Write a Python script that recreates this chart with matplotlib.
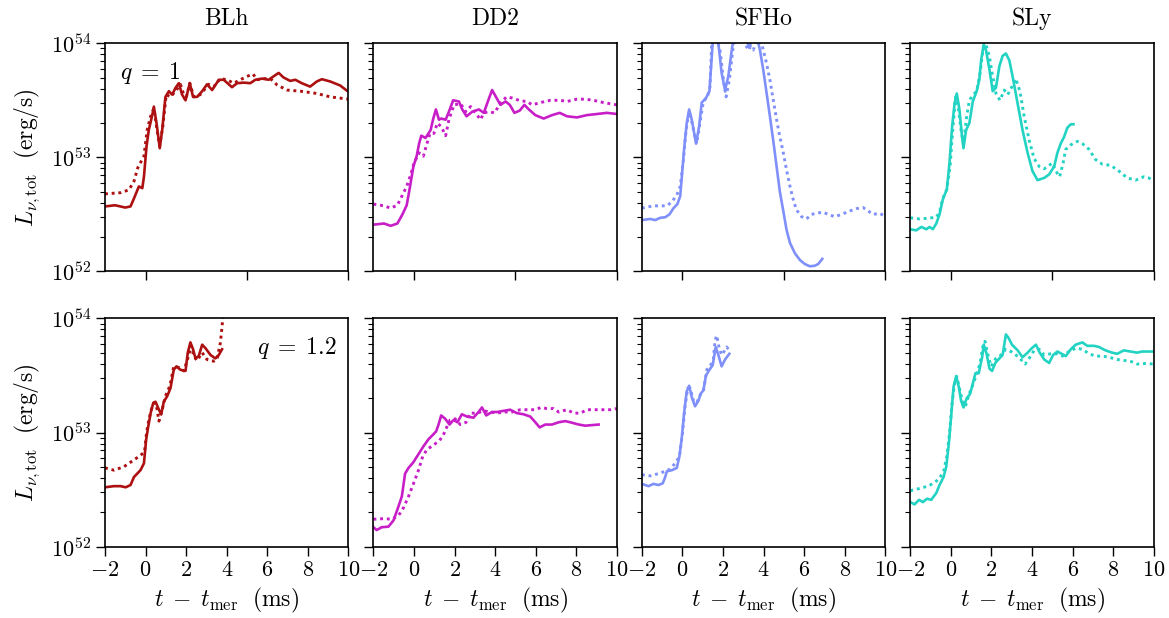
import numpy as np
import matplotlib.pyplot as plt
from matplotlib.ticker import LogLocator, NullFormatter

plt.rcParams['font.family'] = 'serif'
plt.rcParams['font.serif'] = ['cmr10', 'DejaVu Serif']
plt.rcParams['mathtext.fontset'] = 'cm'
plt.rcParams['axes.formatter.use_mathtext'] = True
plt.rcParams['font.size'] = 16

eos_names = ['BLh', 'DD2', 'SFHo', 'SLy']
eos_colors = ['#ad1010', '#c81ec8', '#8090fa', '#22d3c3']
q_labels = [r'$q\;=\;1$', r'$q\;=\;1.2$']

# log10 of L_nu,tot [erg/s] vs t - t_mer [ms]; solid and dotted runs
# q = 1
blh_q1_t = [-2, -1.5, -1.0, -0.74, -0.57, -0.33, -0.16, -0.08, 0.05, 0.16, 0.33, 0.41, 0.54, 0.70, 0.82, 0.98,
            1.15, 1.31, 1.48, 1.64, 1.80, 1.97, 2.18, 2.34, 2.54, 2.79, 3.03, 3.28, 3.61, 3.85, 4.26, 4.51,
            4.84, 5.16, 5.41, 5.74, 6.07, 6.31, 6.56, 6.80, 7.13, 7.38, 7.70, 8.11, 8.44, 8.69, 9.10, 9.59, 9.92]
blh_q1_L = [52.57, 52.58, 52.56, 52.57, 52.64, 52.745, 52.73, 52.83, 53.10, 53.24, 53.37, 53.445, 53.30, 53.08,
            53.24, 53.53, 53.58, 53.55, 53.61, 53.65, 53.55, 53.50, 53.65, 53.53, 53.53, 53.58, 53.64, 53.59,
            53.68, 53.68, 53.615, 53.65, 53.655, 53.65, 53.68, 53.69, 53.68, 53.71, 53.74, 53.70, 53.67, 53.68,
            53.65, 53.62, 53.665, 53.685, 53.665, 53.63, 53.585]
blh_q1_t2 = [-2, -1.23, -0.82, -0.57, -0.38, -0.08, 0.08, 0.25, 0.41, 0.54, 0.69, 0.85, 1.02, 1.23, 1.48, 1.72,
             1.97, 2.18, 2.38, 2.70, 3.11, 3.36, 3.69, 4.02, 4.34, 4.67, 5.0, 5.30, 5.49, 5.82, 6.15, 6.48, 6.97,
             7.62, 8.44, 9.10, 10.0]
blh_q1_L2 = [52.68, 52.69, 52.715, 52.79, 52.91, 53.01, 53.24, 53.36, 53.43, 53.27, 53.10, 53.27, 53.55, 53.53,
             53.58, 53.64, 53.50, 53.65, 53.53, 53.55, 53.64, 53.62, 53.69, 53.68, 53.65, 53.68, 53.71, 53.73,
             53.68, 53.69, 53.69, 53.635, 53.59, 53.58, 53.56, 53.53, 53.51]

dd2_q1_t = [-2, -1.48, -1.15, -0.82, -0.57, -0.36, -0.20, -0.03, 0.13, 0.25, 0.36, 0.57, 0.82, 0.95, 1.08, 1.23,
            1.34, 1.56, 1.72, 1.93, 2.21, 2.38, 2.59, 2.87, 3.20, 3.44, 3.66, 3.85, 4.07, 4.26, 4.51, 4.72, 4.95,
            5.21, 5.44, 5.66, 5.98, 6.39, 6.80, 7.18, 7.54, 8.03, 8.52, 9.02, 9.51, 10.0]
dd2_q1_L = [52.41, 52.42, 52.40, 52.42, 52.50, 52.58, 52.74, 52.92, 53.01, 53.12, 53.19, 53.17, 53.24, 53.34,
            53.42, 53.33, 53.34, 53.33, 53.40, 53.50, 53.49, 53.42, 53.36, 53.40, 53.42, 53.39, 53.50, 53.59,
            53.52, 53.46, 53.49, 53.46, 53.39, 53.41, 53.46, 53.42, 53.37, 53.34, 53.37, 53.39, 53.36, 53.35,
            53.37, 53.38, 53.39, 53.38]
dd2_q1_t2 = [-2, -1.48, -1.15, -0.82, -0.57, -0.36, -0.16, 0.0, 0.25, 0.46, 0.62, 0.79, 0.98, 1.15, 1.34, 1.56,
             1.72, 1.97, 2.30, 2.54, 2.79, 3.03, 3.28, 3.44, 3.69, 3.97, 4.26, 4.56, 4.84, 5.25, 5.57, 5.82, 6.23,
             6.72, 7.21, 7.54, 8.03, 8.44, 8.85, 9.34, 10.0]
dd2_q1_L2 = [52.59, 52.575, 52.555, 52.58, 52.67, 52.745, 52.85, 52.95, 53.04, 53.01, 53.11, 53.21, 53.21,
             53.30, 53.27, 53.19, 53.33, 53.46, 53.47, 53.40, 53.445, 53.39, 53.33, 53.39, 53.40, 53.39, 53.475,
             53.53, 53.52, 53.495, 53.49, 53.46, 53.48, 53.50, 53.50, 53.49, 53.51, 53.51, 53.50, 53.48, 53.46]

sfho_q1_t = [-2, -1.59, -1.34, -1.10, -0.85, -0.64, -0.44, -0.25, -0.11, -0.03, 0.08, 0.21, 0.33, 0.46, 0.67,
             0.82, 0.95, 1.16, 1.33, 1.39, 1.49, 1.61, 1.77, 1.93, 2.10, 2.26, 2.43, 2.51, 2.84, 3.16, 3.30, 3.41,
             3.66, 3.82, 3.98, 4.15, 4.31, 4.48, 4.64, 4.80, 4.97, 5.13, 5.30, 5.54, 5.79, 6.03, 6.28, 6.52, 6.69,
             6.89]
sfho_q1_L = [52.45, 52.46, 52.45, 52.47, 52.475, 52.50, 52.555, 52.59, 52.66, 52.83, 53.07, 53.30, 53.42, 53.33,
             53.12, 53.27, 53.48, 53.52, 53.58, 53.74, 54.0, 54.09, 54.0, 53.74, 53.59, 53.71, 53.94, 54.03,
             54.15, 54.03, 53.96, 54.03, 54.06, 53.94, 53.77, 53.56, 53.36, 53.14, 52.92, 52.70, 52.53, 52.365,
             52.25, 52.16, 52.10, 52.065, 52.045, 52.05, 52.065, 52.11]
sfho_q1_t2 = [-2, -1.43, -0.77, -0.52, -0.28, -0.11, 0.05, 0.18, 0.33, 0.46, 0.70, 0.87, 1.03, 1.23, 1.36,
              1.44, 1.61, 1.85, 2.02, 2.15, 2.31, 2.48, 2.59, 2.90, 3.08, 3.25, 3.36, 3.49, 3.66, 3.90, 4.15, 4.31,
              4.48, 4.64, 4.80, 4.97, 5.13, 5.30, 5.46, 5.62, 5.87, 6.11, 6.36, 6.61, 6.93, 7.18, 7.51, 7.84, 8.25,
              8.57, 8.90, 9.15, 9.39, 9.72, 10.0]
sfho_q1_L2 = [52.555, 52.575, 52.575, 52.61, 52.67, 52.745, 52.98, 53.24, 53.40, 53.31, 53.12, 53.31, 53.49,
              53.53, 53.62, 54.0, 54.09, 53.94, 53.68, 53.53, 53.68, 53.94, 54.06, 54.15, 54.0, 53.94, 53.97,
              53.94, 54.03, 54.0, 53.82, 53.68, 53.50, 53.33, 53.18, 53.04, 52.89, 52.745, 52.63, 52.54, 52.48,
              52.46, 52.50, 52.51, 52.52, 52.50, 52.48, 52.50, 52.53, 52.55, 52.56, 52.53, 52.50, 52.51, 52.48]

sly_q1_t = [-2, -1.71, -1.46, -1.21, -1.05, -0.89, -0.72, -0.56, -0.40, -0.20, -0.07, 0.06, 0.18, 0.29, 0.42,
            0.55, 0.62, 0.75, 0.91, 1.08, 1.27, 1.40, 1.49, 1.62, 1.73, 1.90, 2.06, 2.22, 2.39, 2.55, 2.71, 2.88,
            3.04, 3.29, 3.53, 3.78, 4.02, 4.27, 4.60, 4.84, 5.09, 5.25, 5.41, 5.58, 5.74, 5.91, 6.04]
sly_q1_L = [52.37, 52.36, 52.39, 52.37, 52.39, 52.37, 52.42, 52.50, 52.63, 52.72, 52.95, 53.27, 53.47, 53.56,
            53.42, 53.18, 53.08, 53.24, 53.30, 53.49, 53.58, 53.68, 53.85, 53.99, 53.94, 53.77, 53.58, 53.61,
            53.80, 53.89, 53.91, 53.85, 53.71, 53.47, 53.24, 53.04, 52.88, 52.80, 52.82, 52.85, 52.92, 53.04,
            53.12, 53.18, 53.26, 53.29, 53.29]
sly_q1_t2 = [-2, -1.54, -1.21, -0.72, -0.56, -0.40, -0.20, -0.04, 0.09, 0.23, 0.34, 0.50, 0.62, 0.78, 0.91,
             1.11, 1.27, 1.44, 1.60, 1.73, 1.90, 2.03, 2.22, 2.42, 2.63, 2.80, 3.01, 3.20, 3.40, 3.61, 3.86, 4.10,
             4.35, 4.60, 4.84, 5.00, 5.17, 5.36, 5.53, 5.66, 5.91, 6.23, 6.48, 6.81, 7.13, 7.46, 7.87, 8.28, 8.69,
             9.10, 9.51, 9.75, 10.0]
sly_q1_L2 = [52.47, 52.46, 52.465, 52.475, 52.52, 52.64, 52.72, 52.92, 53.24, 53.53, 53.47, 53.24, 53.12, 53.36,
             53.50, 53.55, 53.58, 53.74, 53.97, 53.99, 53.88, 53.74, 53.56, 53.50, 53.59, 53.55, 53.62, 53.69,
             53.58, 53.36, 53.15, 52.99, 52.92, 52.90, 52.93, 52.95, 52.88, 52.83, 52.95, 53.07, 53.11, 53.14,
             53.12, 53.07, 52.98, 52.94, 52.93, 52.88, 52.82, 52.80, 52.83, 52.82, 52.79]

# q = 1.2
blh_q12_t = [-2, -1.56, -1.23, -0.98, -0.74, -0.57, -0.41, -0.25, -0.08, 0.03, 0.13, 0.25, 0.38, 0.49, 0.66,
             0.77, 0.90, 1.07, 1.23, 1.39, 1.52, 1.72, 1.97, 2.08, 2.21, 2.34, 2.46, 2.62, 2.79, 2.95, 3.20, 3.44,
             3.61, 3.77]
blh_q12_L = [52.52, 52.53, 52.53, 52.52, 52.54, 52.61, 52.64, 52.67, 52.73, 52.94, 53.05, 53.17, 53.26, 53.27,
             53.20, 53.16, 53.27, 53.32, 53.39, 53.55, 53.58, 53.55, 53.54, 53.70, 53.79, 53.73, 53.65, 53.67,
             53.77, 53.74, 53.68, 53.65, 53.68, 53.73]
blh_q12_t2 = [-2, -1.56, -1.07, -0.57, -0.25, -0.05, 0.05, 0.16, 0.28, 0.41, 0.54, 0.66, 0.82, 0.98, 1.20, 1.39,
              1.64, 1.89, 2.08, 2.25, 2.38, 2.54, 2.79, 3.03, 3.36, 3.52, 3.69, 3.77, 3.84]
blh_q12_L2 = [52.69, 52.67, 52.70, 52.76, 52.80, 52.83, 53.00, 53.11, 53.20, 53.26, 53.23, 53.10, 53.20, 53.32,
              53.41, 53.58, 53.57, 53.54, 53.65, 53.76, 53.67, 53.63, 53.70, 53.64, 53.625, 53.64, 53.79, 53.93,
              54.08]

dd2_q12_t = [-2, -1.84, -1.59, -1.26, -1.01, -0.77, -0.60, -0.44, -0.27, -0.03, 0.22, 0.47, 0.71, 0.93, 1.09,
             1.21, 1.34, 1.54, 1.75, 1.95, 2.14, 2.36, 2.61, 2.93, 3.18, 3.35, 3.56, 3.84, 4.09, 4.41, 4.74, 5.07,
             5.40, 5.73, 5.98, 6.19, 6.47, 6.80, 7.13, 7.46, 7.70, 8.12, 8.44, 8.77, 9.10]
dd2_q12_L = [52.17, 52.145, 52.17, 52.175, 52.23, 52.35, 52.44, 52.64, 52.69, 52.74, 52.81, 52.88, 52.94, 52.98,
             53.01, 53.07, 53.15, 53.12, 53.07, 53.11, 53.09, 53.16, 53.14, 53.13, 53.18, 53.22, 53.15, 53.18,
             53.18, 53.19, 53.20, 53.17, 53.16, 53.14, 53.09, 53.045, 53.07, 53.07, 53.09, 53.10, 53.09, 53.07,
             53.06, 53.065, 53.07]
dd2_q12_t2 = [-2, -1.51, -1.10, -0.77, -0.52, -0.27, -0.03, 0.22, 0.43, 0.63, 0.96, 1.26, 1.45, 1.62, 1.78,
              2.03, 2.28, 2.57, 2.77, 3.10, 3.43, 3.76, 4.09, 4.41, 4.83, 5.24, 5.65, 5.98, 6.26, 6.55, 6.88, 7.13,
              7.54, 7.87, 8.20, 8.53, 8.86, 9.35, 9.67, 10.0]
dd2_q12_L2 = [52.24, 52.245, 52.24, 52.27, 52.34, 52.44, 52.55, 52.67, 52.79, 52.85, 52.89, 52.93, 52.98, 53.05,
              53.11, 53.12, 53.07, 53.09, 53.17, 53.17, 53.19, 53.18, 53.17, 53.18, 53.18, 53.20, 53.20, 53.20,
              53.22, 53.21, 53.21, 53.18, 53.20, 53.17, 53.17, 53.20, 53.20, 53.20, 53.20, 53.21]

sfho_q12_t = [-2, -1.67, -1.43, -1.18, -0.97, -0.85, -0.77, -0.52, -0.28, -0.15, -0.03, 0.08, 0.21, 0.33, 0.46,
              0.62, 0.79, 0.90, 1.03, 1.16, 1.33, 1.49, 1.64, 1.77, 1.93, 2.10, 2.31]
sfho_q12_L = [52.55, 52.53, 52.55, 52.54, 52.555, 52.61, 52.66, 52.67, 52.69, 52.79, 52.96, 53.17, 53.36, 53.41,
              53.31, 53.23, 53.28, 53.34, 53.37, 53.50, 53.55, 53.59, 53.75, 53.68, 53.58, 53.64, 53.69]
sfho_q12_t2 = [-2, -1.59, -1.18, -0.85, -0.61, -0.36, -0.15, 0.0, 0.13, 0.26, 0.38, 0.54, 0.70, 0.87, 1.03,
               1.20, 1.36, 1.52, 1.61, 1.69, 1.80, 1.93, 2.05, 2.18, 2.31]
sfho_q12_L2 = [52.63, 52.62, 52.64, 52.66, 52.68, 52.73, 52.79, 52.99, 53.23, 53.39, 53.39, 53.28, 53.26, 53.33,
               53.36, 53.55, 53.58, 53.64, 53.81, 53.85, 53.75, 53.68, 53.71, 53.75, 53.72]

sly_q12_t = [-2, -1.79, -1.57, -1.38, -1.18, -0.97, -0.72, -0.56, -0.36, -0.23, -0.10, 0.01, 0.13, 0.26, 0.39,
             0.50, 0.62, 0.78, 0.95, 1.08, 1.21, 1.37, 1.54, 1.62, 1.76, 1.90, 2.03, 2.19, 2.39, 2.55, 2.71, 2.84,
             3.01, 3.29, 3.53, 3.78, 3.99, 4.19, 4.38, 4.60, 4.84, 5.04, 5.25, 5.46, 5.66, 5.91, 6.15, 6.48, 6.72,
             7.05, 7.30, 7.62, 7.95, 8.20, 8.52, 8.85, 9.18, 9.42, 9.67, 10.0]
sly_q12_L = [52.39, 52.37, 52.41, 52.39, 52.42, 52.41, 52.47, 52.54, 52.61, 52.70, 52.905, 53.14, 53.40, 53.495,
             53.40, 53.28, 53.22, 53.30, 53.34, 53.43, 53.52, 53.52, 53.66, 53.77, 53.69, 53.56, 53.54, 53.61,
             53.65, 53.68, 53.86, 53.83, 53.77, 53.72, 53.66, 53.70, 53.74, 53.77, 53.70, 53.64, 53.61, 53.68,
             53.71, 53.69, 53.67, 53.73, 53.77, 53.79, 53.76, 53.76, 53.75, 53.72, 53.70, 53.69, 53.72, 53.71,
             53.70, 53.71, 53.71, 53.71]
sly_q12_t2 = [-2, -1.54, -1.13, -0.81, -0.56, -0.36, -0.20, -0.07, 0.06, 0.18, 0.29, 0.42, 0.59, 0.72, 0.88,
              1.04, 1.27, 1.44, 1.57, 1.68, 1.81, 1.98, 2.22, 2.47, 2.71, 2.96, 3.20, 3.45, 3.66, 3.86, 4.10, 4.35,
              4.60, 4.92, 5.25, 5.50, 5.82, 6.15, 6.48, 6.81, 7.13, 7.46, 7.79, 8.20, 8.61, 8.93, 9.18, 9.59, 10.0]
sly_q12_L2 = [52.49, 52.51, 52.53, 52.56, 52.60, 52.66, 52.79, 52.99, 53.26, 53.43, 53.49, 53.39, 53.26, 53.23,
              53.33, 53.40, 53.51, 53.61, 53.75, 53.80, 53.69, 53.58, 53.65, 53.68, 53.73, 53.71, 53.68, 53.64,
              53.60, 53.65, 53.72, 53.73, 53.68, 53.69, 53.69, 53.67, 53.71, 53.74, 53.73, 53.69, 53.67, 53.67,
              53.66, 53.64, 53.63, 53.62, 53.60, 53.605, 53.60]

runs = [
    [(blh_q1_t, blh_q1_L, blh_q1_t2, blh_q1_L2), (dd2_q1_t, dd2_q1_L, dd2_q1_t2, dd2_q1_L2),
     (sfho_q1_t, sfho_q1_L, sfho_q1_t2, sfho_q1_L2), (sly_q1_t, sly_q1_L, sly_q1_t2, sly_q1_L2)],
    [(blh_q12_t, blh_q12_L, blh_q12_t2, blh_q12_L2), (dd2_q12_t, dd2_q12_L, dd2_q12_t2, dd2_q12_L2),
     (sfho_q12_t, sfho_q12_L, sfho_q12_t2, sfho_q12_L2), (sly_q12_t, sly_q12_L, sly_q12_t2, sly_q12_L2)],
]

fig, axes = plt.subplots(2, 4, figsize=(11.69, 6.18), dpi=100)
fig.subplots_adjust(left=0.0898, right=0.987, top=0.930, bottom=0.1155, wspace=0.1025, hspace=0.206)

for i in range(2):
    for j in range(4):
        ax = axes[i, j]
        t1, L1, t2, L2 = runs[i][j]
        c = eos_colors[j]
        ax.plot(t1, 10 ** np.array(L1), color=c, lw=1.9, ls='-')
        ax.plot(t2, 10 ** np.array(L2), color=c, lw=2.1, ls=(0, (1, 1.3)))
        ax.set_yscale('log')
        ax.set_xlim(-2, 10)
        ax.set_ylim(1e52, 1e54)
        ax.yaxis.set_major_locator(LogLocator(base=10, numticks=5))
        ax.yaxis.set_minor_locator(LogLocator(base=10, subs=np.arange(2, 10), numticks=20))
        ax.yaxis.set_minor_formatter(NullFormatter())
        ax.tick_params(which='major', length=6.5, width=1.0, labelsize=16)
        ax.tick_params(which='minor', length=3.5, width=0.8)
        for sp in ax.spines.values():
            sp.set_linewidth(1.2)
        if i == 0:
            ax.set_xticks([0, 5, 10])
            ax.set_xticklabels([])
            ax.set_title(eos_names[j], fontsize=17, pad=13)
        else:
            ax.set_xticks(np.arange(-2, 11, 2))
            ax.set_xlabel(r'$t\;-\;t_{\rm mer}\ \ ({\rm ms})$', fontsize=17)
        if j == 0:
            ax.set_ylabel(r'$L_{\nu,{\rm tot}}\ \ ({\rm erg/s})$', fontsize=17, labelpad=6)
        else:
            ax.set_yticklabels([])

axes[0, 0].text(0.06, 0.87, q_labels[0], transform=axes[0, 0].transAxes, fontsize=17, ha='left', va='center')
axes[1, 0].text(0.95, 0.87, q_labels[1], transform=axes[1, 0].transAxes, fontsize=17, ha='right', va='center')

fig.savefig('out.png', dpi=100)
